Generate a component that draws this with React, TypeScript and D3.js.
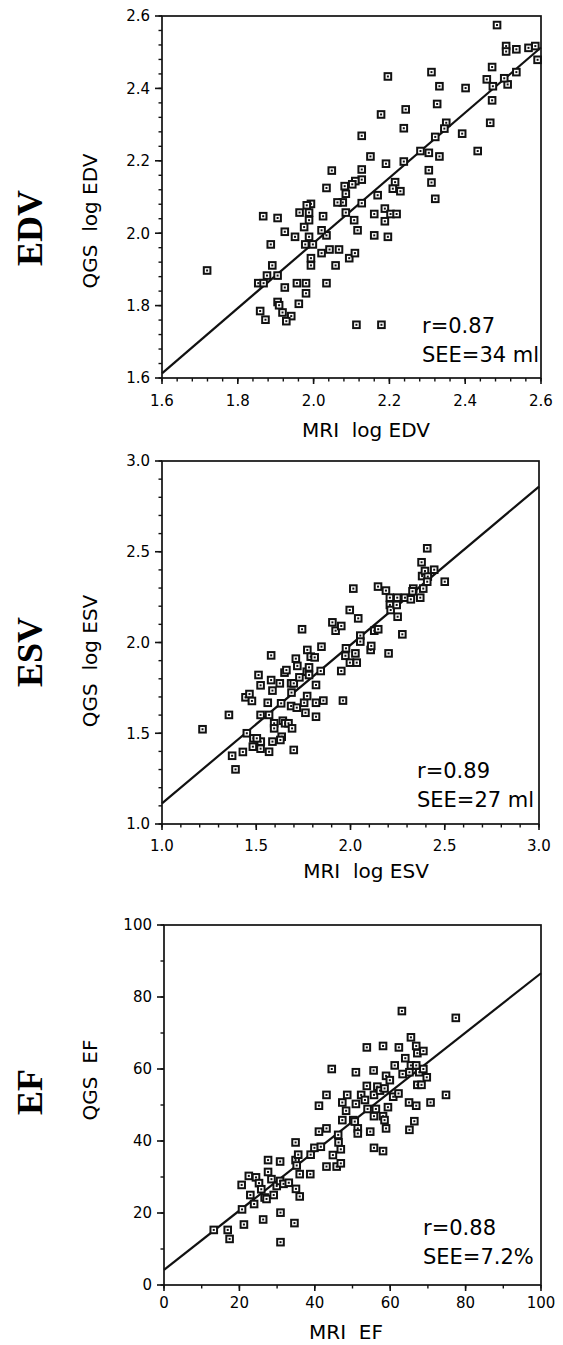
import React from "react";
import * as d3 from "d3";

// values
const edvMri = [1.719, 2.484, 2.508, 2.508, 2.535, 2.567, 2.585, 2.591, 2.535, 2.512, 2.503, 2.471, 2.457, 2.473, 2.471, 2.466, 2.433, 2.401, 2.392, 2.35, 2.345, 2.321, 2.311, 2.332, 2.326, 2.332, 2.304, 2.282, 2.304, 2.311, 2.321, 2.196, 2.178, 2.243, 2.238, 2.238, 2.191, 2.15, 2.127, 2.127, 2.127, 2.11, 2.102, 2.082, 2.085, 2.077, 2.063, 2.127, 2.169, 2.215, 2.209, 2.229, 2.085, 2.107, 2.116, 2.16, 2.188, 2.188, 2.203, 2.219, 2.16, 2.196, 2.094, 2.109, 2.067, 2.042, 2.058, 2.034, 2.021, 2.034, 2.021, 2.025, 2.034, 2.048, 1.993, 1.982, 1.988, 1.963, 1.988, 1.975, 1.988, 1.978, 1.998, 1.993, 1.993, 1.951, 1.924, 1.905, 1.867, 1.887, 1.891, 1.877, 1.905, 1.854, 1.868, 1.924, 1.956, 1.98, 1.98, 1.961, 1.905, 1.909, 1.918, 1.941, 1.928, 1.859, 1.873, 2.113, 2.179];
const edvQgs = [1.897, 2.575, 2.517, 2.502, 2.508, 2.512, 2.517, 2.479, 2.445, 2.411, 2.428, 2.459, 2.425, 2.406, 2.367, 2.305, 2.227, 2.401, 2.275, 2.305, 2.289, 2.266, 2.445, 2.406, 2.357, 2.212, 2.222, 2.227, 2.174, 2.14, 2.095, 2.433, 2.328, 2.342, 2.29, 2.198, 2.192, 2.212, 2.269, 2.176, 2.148, 2.144, 2.135, 2.13, 2.109, 2.085, 2.085, 2.083, 2.105, 2.141, 2.123, 2.116, 2.057, 2.036, 2.008, 2.053, 2.068, 2.033, 2.053, 2.053, 1.994, 1.99, 1.931, 1.945, 1.955, 1.955, 1.911, 1.862, 1.945, 1.994, 2.008, 2.047, 2.125, 2.173, 2.081, 2.077, 2.057, 2.057, 2.036, 2.017, 1.99, 1.969, 1.969, 1.931, 1.911, 1.99, 2.004, 2.042, 2.047, 1.969, 1.911, 1.883, 1.883, 1.862, 1.862, 1.85, 1.862, 1.862, 1.834, 1.805, 1.81, 1.801, 1.781, 1.771, 1.757, 1.785, 1.761, 1.747, 1.747];

const esvMri = [1.215, 1.355, 1.372, 1.39, 1.429, 1.45, 1.443, 1.464, 1.477, 1.485, 1.482, 1.512, 1.523, 1.523, 1.524, 1.523, 1.503, 1.561, 1.568, 1.568, 1.579, 1.579, 1.586, 1.586, 1.595, 1.595, 1.625, 1.632, 1.635, 1.628, 1.641, 1.65, 1.66, 1.653, 1.671, 1.685, 1.687, 1.685, 1.69, 1.699, 1.699, 1.71, 1.718, 1.729, 1.715, 1.743, 1.754, 1.761, 1.77, 1.768, 1.771, 1.78, 1.78, 1.789, 1.81, 1.817, 1.817, 1.817, 1.842, 1.846, 1.856, 1.904, 1.921, 1.951, 1.951, 1.96, 1.976, 1.973, 1.997, 2.015, 1.996, 2.026, 2.033, 2.041, 2.052, 2.052, 2.107, 2.11, 2.126, 2.147, 2.146, 2.188, 2.202, 2.209, 2.209, 2.213, 2.248, 2.245, 2.25, 2.275, 2.289, 2.32, 2.333, 2.329, 2.37, 2.377, 2.38, 2.386, 2.395, 2.407, 2.41, 2.407, 2.444, 2.5];
const esvQgs = [1.522, 1.601, 1.376, 1.301, 1.397, 1.5, 1.698, 1.716, 1.678, 1.472, 1.426, 1.821, 1.764, 1.601, 1.454, 1.415, 1.472, 1.668, 1.601, 1.398, 1.929, 1.793, 1.735, 1.454, 1.555, 1.527, 1.775, 1.665, 1.481, 1.463, 1.569, 1.834, 1.848, 1.555, 1.555, 1.775, 1.724, 1.65, 1.527, 1.408, 1.775, 1.911, 1.871, 1.808, 1.641, 2.073, 1.668, 1.613, 1.705, 1.839, 1.959, 1.863, 1.821, 1.922, 1.918, 1.766, 1.668, 1.591, 1.843, 1.977, 1.68, 2.111, 2.065, 2.091, 1.843, 1.68, 1.968, 1.927, 1.889, 2.297, 2.179, 1.94, 1.889, 2.133, 2.038, 2.005, 1.959, 1.981, 2.065, 2.073, 2.308, 2.286, 1.94, 2.247, 2.207, 2.179, 2.247, 2.207, 2.142, 2.045, 2.247, 2.238, 2.297, 2.282, 2.247, 2.442, 2.366, 2.297, 2.394, 2.519, 2.363, 2.335, 2.401, 2.335];

const efMri = [13.2, 16.9, 17.4, 21.2, 20.7, 20.6, 22.5, 22.9, 23.9, 24.4, 25.2, 25.8, 26.3, 26.7, 27.2, 27.6, 27.6, 28.5, 29.1, 29.9, 30.8, 30.8, 30.9, 30.9, 31.7, 33.1, 34.9, 34.9, 35.2, 35.0, 34.6, 35.6, 36.0, 36.0, 38.8, 38.9, 39.9, 41.1, 41.1, 41.6, 43.1, 43.1, 43.1, 44.5, 44.8, 45.8, 46.2, 46.3, 46.9, 46.9, 47.3, 47.3, 48.3, 48.6, 50.2, 50.6, 50.9, 50.9, 51.4, 51.4, 52.3, 53.3, 53.8, 53.8, 54.0, 54.7, 55.6, 55.7, 55.7, 55.7, 56.2, 56.6, 57.3, 58.1, 58.1, 58.1, 58.5, 58.5, 58.9, 58.9, 59.4, 59.9, 60.8, 61.2, 62.2, 62.3, 63.1, 63.3, 64.0, 65.0, 65.1, 65.1, 65.5, 65.5, 66.4, 66.9, 66.9, 66.9, 67.2, 67.2, 67.7, 68.3, 68.8, 68.8, 69.7, 70.7, 74.8, 77.4];
const efQgs = [15.3, 15.3, 12.8, 16.8, 21.0, 27.8, 30.3, 25.0, 22.5, 29.9, 28.3, 26.6, 18.2, 24.3, 23.9, 34.7, 31.4, 29.4, 25.0, 27.5, 34.3, 28.9, 20.1, 11.9, 28.1, 28.4, 39.6, 34.7, 33.2, 26.7, 17.2, 36.2, 30.8, 24.6, 30.8, 36.2, 38.1, 49.8, 42.6, 38.4, 52.8, 43.5, 32.9, 60.0, 36.1, 32.9, 41.7, 39.6, 37.7, 33.8, 50.7, 45.8, 48.4, 52.8, 45.8, 45.4, 59.1, 50.3, 43.5, 42.1, 52.8, 51.4, 66.0, 55.3, 48.9, 42.6, 59.6, 52.8, 46.9, 38.1, 48.9, 55.1, 54.0, 66.4, 46.9, 37.2, 54.6, 45.8, 58.1, 43.5, 49.4, 56.9, 52.3, 61.0, 53.2, 66.0, 76.1, 58.6, 63.0, 50.7, 43.1, 59.1, 68.8, 61.0, 45.5, 49.8, 66.4, 61.0, 64.4, 55.6, 59.1, 55.6, 65.0, 60.0, 57.7, 50.7, 52.8, 74.2];

const edvTicks = ["1.6", "1.8", "2.0", "2.2", "2.4", "2.6"];
const esvTicks = ["1.0", "1.5", "2.0", "2.5", "3.0"];
const efTicks = ["0", "20", "40", "60", "80", "100"];

// regression lines: [slope, intercept]
const edvFit = [0.9, 0.173];
const esvFit = [0.8725, 0.2415];
const efFit = [0.824, 4.2];

const edvStats = ["r=0.87", "SEE=34 ml"];
const esvStats = ["r=0.89", "SEE=27 ml"];
const efStats = ["r=0.88", "SEE=7.2%"];

const sans = "'DejaVu Sans', Verdana, sans-serif";

function Panel(props) {
  const { xs, ys, ticks, minor, fit, stats, name, xTitle, yTitle, box, lay } = props;
  const lo = +ticks[0];
  const hi = +ticks[ticks.length - 1];
  const x = d3.scaleLinear().domain([lo, hi]).range([box.left, box.right]);
  const y = d3.scaleLinear().domain([lo, hi]).range([box.bottom, box.top]);
  const minorTicks = d3.range(lo, hi + minor / 2, minor);
  const line = d3.line()([
    [x(lo), y(fit[0] * lo + fit[1])],
    [x(hi), y(fit[0] * hi + fit[1])],
  ]);

  return (
    <g>
      <text
        transform={`translate(${lay.nameX},${lay.nameY}) rotate(-90)`}
        textAnchor="middle"
        dominantBaseline="central"
        fontFamily="'Liberation Serif', 'Times New Roman', serif"
        fontWeight="bold"
        fontSize={36}
      >
        {name}
      </text>
      <text
        transform={`translate(97,${lay.yTitleY}) rotate(-90)`}
        textAnchor="middle"
        fontFamily={sans}
        fontSize={20}
        style={{ whiteSpace: "pre" }}
      >
        {yTitle}
      </text>
      <text
        x={lay.xTitleX}
        y={box.bottom + lay.xTitleDy}
        textAnchor="middle"
        fontFamily={sans}
        fontSize={20}
        style={{ whiteSpace: "pre" }}
      >
        {xTitle}
      </text>

      {minorTicks.map((t, i) => (
        <g key={"m" + i} stroke="#111" strokeWidth={1.4}>
          <line x1={x(t)} x2={x(t)} y1={box.bottom} y2={box.bottom + 3.5} />
          <line x1={box.left - 3.5} x2={box.left} y1={y(t)} y2={y(t)} />
        </g>
      ))}
      {ticks.map((t) => (
        <g key={t}>
          <line x1={x(+t)} x2={x(+t)} y1={box.bottom} y2={box.bottom + 6} stroke="#111" strokeWidth={1.6} />
          <line x1={box.left - 7} x2={box.left} y1={y(+t)} y2={y(+t)} stroke="#111" strokeWidth={1.6} />
          <text x={x(+t)} y={box.bottom + lay.tickDy} textAnchor="middle" fontFamily={sans} fontSize={15}>
            {t}
          </text>
          <text x={box.left - 12} y={y(+t)} dy="0.36em" textAnchor="end" fontFamily={sans} fontSize={15}>
            {t}
          </text>
        </g>
      ))}

      <rect
        x={box.left}
        y={box.top}
        width={box.right - box.left}
        height={box.bottom - box.top}
        fill="none"
        stroke="#111"
        strokeWidth={1.7}
      />
      <path d={line} stroke="#111" strokeWidth={2.2} fill="none" />

      {xs.map((v, i) => (
        <g key={i} transform={`translate(${x(v)},${y(ys[i])})`}>
          <rect x={-3.3} y={-3.3} width={6.6} height={6.6} fill="#fff" stroke="#111" strokeWidth={2} />
          <rect x={-1} y={-1} width={2} height={2} fill="#111" />
        </g>
      ))}

      {stats.map((s, i) => (
        <text key={s} x={lay.statX} y={lay.statY + i * 28.5} fontFamily={sans} fontSize={21}>
          {s}
        </text>
      ))}
    </g>
  );
}

export default function App() {
  return (
    <svg
      width={563}
      height={1345}
      style={{ position: "absolute", left: 0, top: 0, background: "#fff" }}
    >
      <Panel
        xs={edvMri}
        ys={edvQgs}
        ticks={edvTicks}
        minor={0.04}
        fit={edvFit}
        stats={edvStats}
        name="EDV"
        xTitle="MRI  log EDV"
        yTitle="QGS  log EDV"
        box={{ left: 162, right: 541, top: 16, bottom: 378 }}
        lay={{ nameX: 30, nameY: 228, yTitleY: 221, xTitleX: 366, xTitleDy: 59, tickDy: 28, statX: 422, statY: 333 }}
      />
      <Panel
        xs={esvMri}
        ys={esvQgs}
        ticks={esvTicks}
        minor={0.1}
        fit={esvFit}
        stats={esvStats}
        name="ESV"
        xTitle="MRI  log ESV"
        yTitle="QGS  log ESV"
        box={{ left: 162, right: 539, top: 461, bottom: 824 }}
        lay={{ nameX: 30, nameY: 652, yTitleY: 661, xTitleX: 366, xTitleDy: 54, tickDy: 27, statX: 417, statY: 778 }}
      />
      <Panel
        xs={efMri}
        ys={efQgs}
        ticks={efTicks}
        minor={10}
        fit={efFit}
        stats={efStats}
        name="EF"
        xTitle="MRI  EF"
        yTitle="QGS  EF"
        box={{ left: 164, right: 541, top: 925, bottom: 1285 }}
        lay={{ nameX: 30, nameY: 1092, yTitleY: 1080, xTitleX: 346, xTitleDy: 54, tickDy: 23, statX: 423, statY: 1235 }}
      />
    </svg>
  );
}
